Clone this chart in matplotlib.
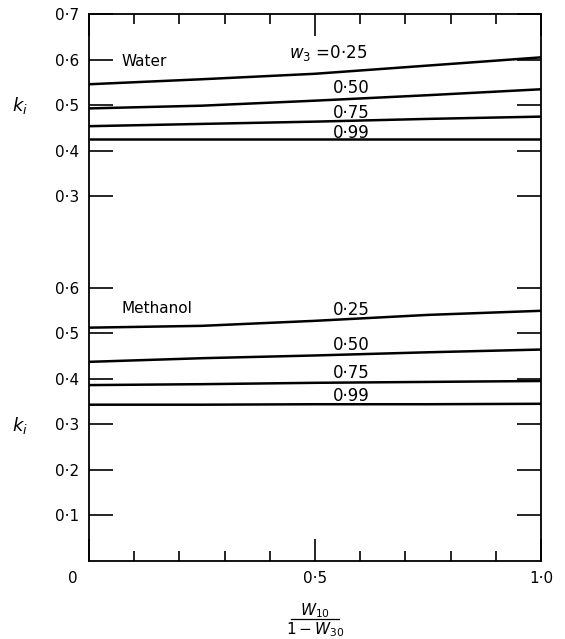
import matplotlib as mpl
mpl.use('Agg')

import matplotlib.pyplot as plt
import matplotlib.transforms as mtransforms

# x = w10 / (1 - w30)
x = [0.0, 0.25, 0.5, 0.75, 1.0]

# water, k_i for w3 = 0.25, 0.50, 0.75, 0.99 (upper scale)
water_025 = [0.546, 0.557, 0.569, 0.587, 0.605]
water_050 = [0.493, 0.499, 0.510, 0.522, 0.535]
water_075 = [0.454, 0.459, 0.464, 0.470, 0.475]
water_099 = [0.425, 0.425, 0.425, 0.425, 0.425]

# methanol, k_i for the same w3 values (lower scale)
meth_025 = [0.512, 0.516, 0.527, 0.540, 0.549]
meth_050 = [0.437, 0.445, 0.451, 0.458, 0.464]
meth_075 = [0.386, 0.388, 0.391, 0.393, 0.395]
meth_099 = [0.343, 0.343, 0.344, 0.344, 0.345]

w3_labels = ['0·25', '0·50', '0·75', '0·99']

lower_ticks = [0.1, 0.2, 0.3, 0.4, 0.5, 0.6]
upper_ticks = [0.3, 0.4, 0.5, 0.6, 0.7]
x_ticklabels = ['0', '0·5', '1·0']

# upper (water) scale is drawn 0.5 above the lower (methanol) one
shift = 0.5


def main():
    plt.rcParams['font.family'] = ['DejaVu Sans']
    fig = plt.figure(figsize=(5.65, 6.39), dpi=100)
    ax = fig.add_axes([0.1575, 0.122, 0.8, 0.856])

    lw = 1.8
    for ys in (water_025, water_050, water_075, water_099):
        ax.plot(x, [y + shift for y in ys], color='k', lw=lw, solid_capstyle='butt')
    for ys in (meth_025, meth_050, meth_075, meth_099):
        ax.plot(x, ys, color='k', lw=lw, solid_capstyle='butt')

    ax.set_xlim(0, 1.0)
    ax.set_ylim(0, 1.2)
    for s in ax.spines.values():
        s.set_linewidth(1.3)

    # y ticks: lower scale plus shifted upper scale
    yt = lower_ticks + [u + shift for u in upper_ticks]
    ylab = ['0·%d' % round(v * 10) for v in lower_ticks] + \
           ['0·%d' % round(v * 10) for v in upper_ticks]
    ax.set_yticks(yt)
    ax.set_yticklabels(ylab, fontsize=11)
    ax.tick_params(axis='y', which='major', direction='in', length=17, width=1.2,
                   left=True, right=True, pad=7)

    # x ticks
    ax.set_xticks([0, 0.5, 1.0])
    ax.set_xticklabels(x_ticklabels, fontsize=11)
    ax.set_xticks([0.1, 0.2, 0.3, 0.4, 0.6, 0.7, 0.8, 0.9], minor=True)
    ax.tick_params(axis='x', which='major', direction='in', length=16, width=1.2,
                   top=True, bottom=True, pad=7)
    ax.tick_params(axis='x', which='minor', direction='in', length=7, width=1.2,
                   top=True, bottom=True)
    # the "0" label sits left of the corner
    lab0 = ax.get_xticklabels()[0]
    off = mtransforms.ScaledTranslation(-16 / 100, 0, fig.dpi_scale_trans)
    lab0.set_transform(lab0.get_transform() + off)

    # curve labels
    ax.text(0.073, 1.095, 'Water', fontsize=11, ha='left', va='center')
    ax.text(0.615, 1.115, '$w_3$ =' + w3_labels[0], fontsize=12, ha='right', va='center')
    for lab, yy in zip(w3_labels[1:], [1.038, 0.983, 0.939]):
        ax.text(0.58, yy, lab, fontsize=12, ha='center', va='center')

    ax.text(0.073, 0.555, 'Methanol', fontsize=11, ha='left', va='center')
    for lab, yy in zip(w3_labels, [0.551, 0.474, 0.412, 0.362]):
        ax.text(0.58, yy, lab, fontsize=12, ha='center', va='center')

    # axis titles
    ax.text(-0.153, 1.0, '$k_i$', fontsize=13, ha='center', va='center')
    ax.text(-0.153, 0.298, '$k_i$', fontsize=13, ha='center', va='center')
    fig.text(0.5575, 1 - 611 / 639, '$W_{10}$', fontsize=11, ha='center', va='center')
    fig.text(0.5575, 1 - 630 / 639, '$1-W_{30}$', fontsize=11, ha='center', va='center')
    fig.add_artist(plt.Line2D([0.5575 - 0.042, 0.5575 + 0.042], [1 - 619 / 639] * 2,
                              color='k', lw=0.9))

    fig.savefig('out.png', dpi=100)


if __name__ == '__main__':
    main()
